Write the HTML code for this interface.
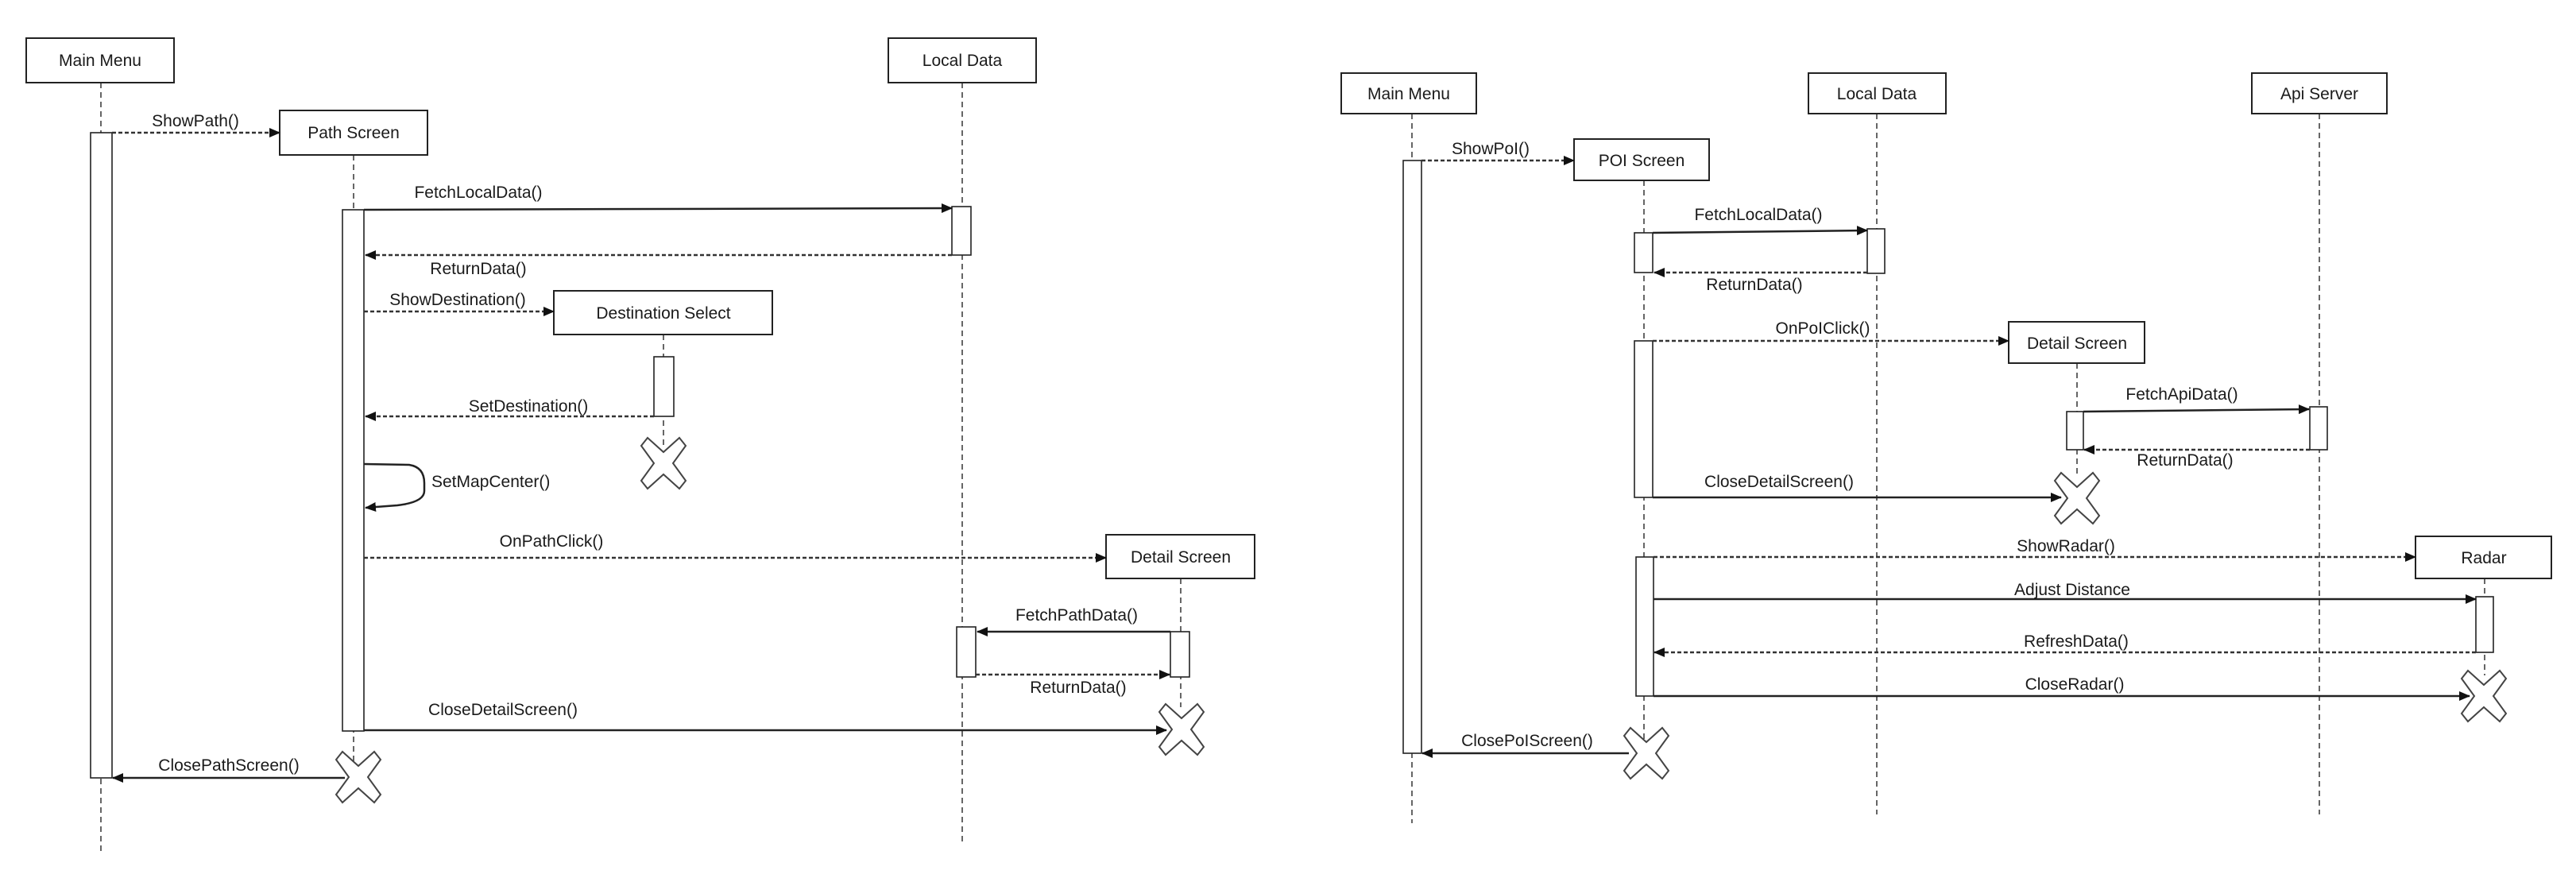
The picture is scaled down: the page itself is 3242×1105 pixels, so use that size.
<!DOCTYPE html>
<html><head><meta charset="utf-8"><style>
html,body{margin:0;padding:0;background:#fff;}
svg{display:block;}
text{font-family:"Liberation Sans",sans-serif;font-size:21px;fill:#1a1a1a;}
.box{fill:#fff;stroke:#222;stroke-width:2;}
.life{stroke:#333;stroke-width:1.5;stroke-dasharray:7 5;fill:none;}
.act{fill:#fff;stroke:#222;stroke-width:1.6;}
.sol{stroke:#222;stroke-width:2.5;fill:none;}
.dsh{stroke:#333;stroke-width:2.5;stroke-dasharray:5 3;fill:none;}
.x{fill:#fff;stroke:#444;stroke-width:2;}
</style></head><body>
<svg width="3242" height="1105" viewBox="0 0 3242 1105" xmlns="http://www.w3.org/2000/svg">
<defs>
<marker id="ah" markerWidth="14" markerHeight="12" refX="13" refY="6" orient="auto" markerUnits="userSpaceOnUse">
<path d="M0,0 L14,6 L0,12 z" fill="#111"/></marker>
<g id="xs"><polygon class="x" points="-20,-32 0,-14 20,-32 28,-22 12,0 28,22 20,32 0,14 -20,32 -28,22 -12,0 -28,-22"/></g>
</defs>

<!-- ================= LEFT DIAGRAM ================= -->
<!-- lifelines -->
<line class="life" x1="127" y1="104" x2="127" y2="1073"/>
<line class="life" x1="1211" y1="104" x2="1211" y2="1061"/>
<line class="life" x1="445" y1="195" x2="445" y2="979"/>
<line class="life" x1="835" y1="421" x2="835" y2="560"/>
<line class="life" x1="1486" y1="728" x2="1486" y2="890"/>

<!-- boxes -->
<rect class="box" x="33" y="48" width="186" height="56"/>
<text x="126" y="83" text-anchor="middle">Main Menu</text>
<rect class="box" x="1118" y="48" width="186" height="56"/>
<text x="1211" y="83" text-anchor="middle">Local Data</text>
<rect class="box" x="352" y="139" width="186" height="56"/>
<text x="445" y="174" text-anchor="middle">Path Screen</text>
<rect class="box" x="697" y="366" width="275" height="55"/>
<text x="835" y="401" text-anchor="middle">Destination Select</text>
<rect class="box" x="1392" y="673" width="187" height="55"/>
<text x="1486" y="708" text-anchor="middle">Detail Screen</text>

<!-- activations -->
<rect class="act" x="114" y="167" width="27" height="812"/>
<rect class="act" x="431" y="264" width="27" height="656"/>
<rect class="act" x="1198" y="260" width="24" height="61"/>
<rect class="act" x="823" y="449" width="25" height="75"/>
<rect class="act" x="1473" y="795" width="24" height="57"/>
<rect class="act" x="1204" y="789" width="24" height="63"/>

<!-- messages -->
<line class="dsh" x1="141" y1="167" x2="352" y2="167" marker-end="url(#ah)"/>
<text x="246" y="159" text-anchor="middle">ShowPath()</text>

<line class="sol" x1="458" y1="264" x2="1198" y2="262" marker-end="url(#ah)"/>
<text x="602" y="249" text-anchor="middle">FetchLocalData()</text>

<line class="dsh" x1="1198" y1="321" x2="460" y2="321" marker-end="url(#ah)"/>
<text x="602" y="345" text-anchor="middle">ReturnData()</text>

<line class="dsh" x1="458" y1="392" x2="697" y2="392" marker-end="url(#ah)"/>
<text x="576" y="384" text-anchor="middle">ShowDestination()</text>

<line class="dsh" x1="823" y1="524" x2="460" y2="524" marker-end="url(#ah)"/>
<text x="665" y="518" text-anchor="middle">SetDestination()</text>

<path class="sol" d="M458,584 L515,585 Q534,588 534,608 L534,618 Q534,632 500,636 L460,639" marker-end="url(#ah)"/>
<text x="543" y="613">SetMapCenter()</text>

<line class="dsh" x1="458" y1="702" x2="1392" y2="702" marker-end="url(#ah)"/>
<text x="694" y="688" text-anchor="middle">OnPathClick()</text>

<line class="sol" x1="1473" y1="795" x2="1230" y2="795" marker-end="url(#ah)"/>
<text x="1355" y="781" text-anchor="middle">FetchPathData()</text>

<line class="dsh" x1="1228" y1="849" x2="1472" y2="849" marker-end="url(#ah)"/>
<text x="1357" y="872" text-anchor="middle">ReturnData()</text>

<line class="sol" x1="458" y1="919" x2="1468" y2="919" marker-end="url(#ah)"/>
<text x="633" y="900" text-anchor="middle">CloseDetailScreen()</text>

<line class="sol" x1="434" y1="979" x2="142" y2="979" marker-end="url(#ah)"/>
<text x="288" y="970" text-anchor="middle">ClosePathScreen()</text>

<use href="#xs" x="835" y="583"/>
<use href="#xs" x="1487" y="918"/>
<use href="#xs" x="451" y="978"/>

<!-- ================= RIGHT DIAGRAM ================= -->
<line class="life" x1="1777" y1="143" x2="1777" y2="1036"/>
<line class="life" x1="2362" y1="143" x2="2362" y2="1025"/>
<line class="life" x1="2919" y1="143" x2="2919" y2="1025"/>
<line class="life" x1="2069" y1="227" x2="2069" y2="948"/>
<line class="life" x1="2614" y1="457" x2="2614" y2="600"/>
<line class="life" x1="3127" y1="728" x2="3127" y2="850"/>

<rect class="box" x="1688" y="92" width="170" height="51"/>
<text x="1773" y="125" text-anchor="middle">Main Menu</text>
<rect class="box" x="2276" y="92" width="173" height="51"/>
<text x="2362" y="125" text-anchor="middle">Local Data</text>
<rect class="box" x="2834" y="92" width="170" height="51"/>
<text x="2919" y="125" text-anchor="middle">Api Server</text>
<rect class="box" x="1981" y="175" width="170" height="52"/>
<text x="2066" y="209" text-anchor="middle">POI Screen</text>
<rect class="box" x="2528" y="405" width="171" height="52"/>
<text x="2614" y="439" text-anchor="middle">Detail Screen</text>
<rect class="box" x="3040" y="675" width="171" height="53"/>
<text x="3126" y="709" text-anchor="middle">Radar</text>

<rect class="act" x="1766" y="202" width="23" height="746"/>
<rect class="act" x="2057" y="293" width="23" height="50"/>
<rect class="act" x="2350" y="288" width="22" height="56"/>
<rect class="act" x="2057" y="429" width="23" height="197"/>
<rect class="act" x="2601" y="518" width="21" height="48"/>
<rect class="act" x="2907" y="512" width="22" height="54"/>
<rect class="act" x="2059" y="701" width="22" height="175"/>
<rect class="act" x="3116" y="751" width="22" height="70"/>

<line class="dsh" x1="1789" y1="202" x2="1981" y2="202" marker-end="url(#ah)"/>
<text x="1876" y="194" text-anchor="middle">ShowPoI()</text>

<line class="sol" x1="2080" y1="293" x2="2350" y2="290" marker-end="url(#ah)"/>
<text x="2213" y="277" text-anchor="middle">FetchLocalData()</text>

<line class="dsh" x1="2350" y1="343" x2="2082" y2="343" marker-end="url(#ah)"/>
<text x="2208" y="365" text-anchor="middle">ReturnData()</text>

<line class="dsh" x1="2080" y1="429" x2="2528" y2="429" marker-end="url(#ah)"/>
<text x="2294" y="420" text-anchor="middle">OnPoIClick()</text>

<line class="sol" x1="2622" y1="518" x2="2906" y2="515" marker-end="url(#ah)"/>
<text x="2746" y="503" text-anchor="middle">FetchApiData()</text>

<line class="dsh" x1="2907" y1="566" x2="2623" y2="566" marker-end="url(#ah)"/>
<text x="2750" y="586" text-anchor="middle">ReturnData()</text>

<line class="sol" x1="2080" y1="626" x2="2594" y2="626" marker-end="url(#ah)"/>
<text x="2239" y="613" text-anchor="middle">CloseDetailScreen()</text>

<line class="dsh" x1="2081" y1="701" x2="3040" y2="701" marker-end="url(#ah)"/>
<text x="2600" y="694" text-anchor="middle">ShowRadar()</text>

<line class="sol" x1="2081" y1="754" x2="3116" y2="754" marker-end="url(#ah)"/>
<text x="2608" y="749" text-anchor="middle">Adjust Distance</text>

<line class="dsh" x1="3116" y1="821" x2="2082" y2="821" marker-end="url(#ah)"/>
<text x="2613" y="814" text-anchor="middle">RefreshData()</text>

<line class="sol" x1="2081" y1="876" x2="3108" y2="876" marker-end="url(#ah)"/>
<text x="2611" y="868" text-anchor="middle">CloseRadar()</text>

<line class="sol" x1="2050" y1="948" x2="1790" y2="948" marker-end="url(#ah)"/>
<text x="1922" y="939" text-anchor="middle">ClosePoIScreen()</text>

<use href="#xs" x="2614" y="627"/>
<use href="#xs" x="3126" y="876"/>
<use href="#xs" x="2072" y="948"/>
</svg>
</body></html>
